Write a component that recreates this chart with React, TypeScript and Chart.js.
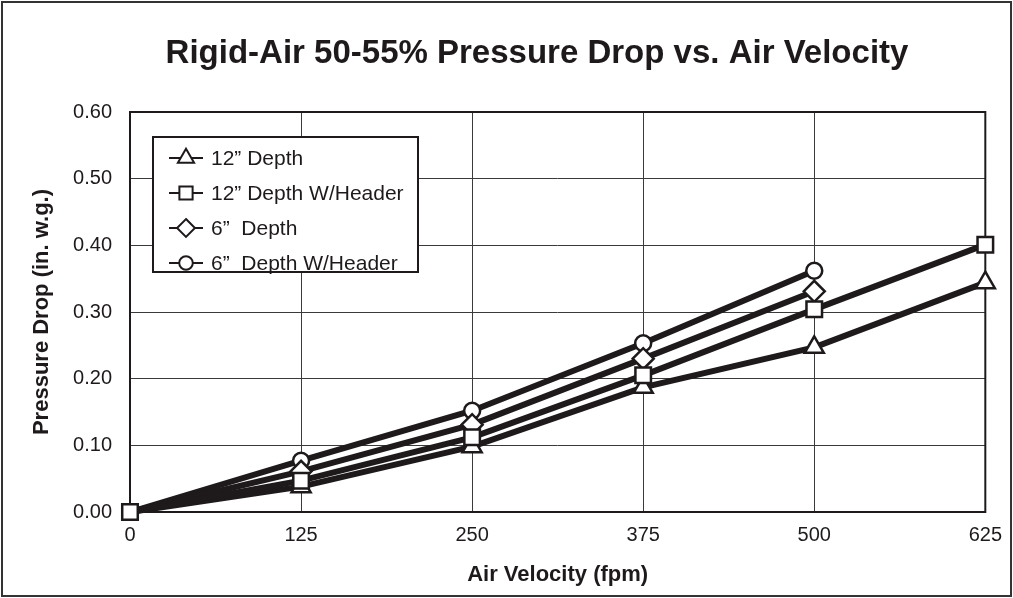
import React, { useEffect, useRef } from 'react';
import { Chart, registerables } from 'chart.js';

Chart.register(...registerables);

const INK = '#1e1a1b';
const GRID = '#3a3a3a';
const FONT = "'Liberation Sans', Arial, Helvetica, sans-serif";

const chartTitle = 'Rigid-Air 50-55% Pressure Drop vs. Air Velocity';
const xAxisTitle = 'Air Velocity (fpm)';
const yAxisTitle = 'Pressure Drop (in. w.g.)';

const velocities = [0, 125, 250, 375, 500, 625];
const xTickValues = [0, 125, 250, 375, 500, 625];
const yTickValues = [0, 0.1, 0.2, 0.3, 0.4, 0.5, 0.6];

const seriesLabels = ['12\u201D Depth', '12\u201D Depth W/Header', '6\u201D  Depth', '6\u201D  Depth W/Header'];
const seriesMarkers = ['triangle', 'rect', 'rectRot', 'circle'];
const seriesRadius = [11, 11, 10.5, 8];

const depth12 = [0, 0.038, 0.098, 0.187, 0.247, 0.344];
const depth12Header = [0, 0.047, 0.112, 0.205, 0.304, 0.401];
const depth6 = [0, 0.061, 0.131, 0.23, 0.331];
const depth6Header = [0, 0.077, 0.152, 0.253, 0.362];

const seriesValues = [depth12, depth12Header, depth6, depth6Header];

function drawMarker(ctx: CanvasRenderingContext2D, style: string, x: number, y: number, r: number) {
  ctx.beginPath();
  if (style === 'circle') {
    ctx.arc(x, y, r, 0, Math.PI * 2);
  } else if (style === 'rect') {
    const s = Math.SQRT1_2 * r;
    ctx.rect(x - s, y - s, 2 * s, 2 * s);
  } else if (style === 'rectRot') {
    ctx.moveTo(x, y - r);
    ctx.lineTo(x + r, y);
    ctx.lineTo(x, y + r);
    ctx.lineTo(x - r, y);
    ctx.closePath();
  } else if (style === 'triangle') {
    let a = 0;
    ctx.moveTo(x + Math.sin(a) * r, y - Math.cos(a) * r);
    a += (2 * Math.PI) / 3;
    ctx.lineTo(x + Math.sin(a) * r, y - Math.cos(a) * r);
    a += (2 * Math.PI) / 3;
    ctx.lineTo(x + Math.sin(a) * r, y - Math.cos(a) * r);
    ctx.closePath();
  }
  ctx.fill();
  ctx.stroke();
}

const decorPlugin = {
  id: 'decor',
  beforeDraw(chart: any) {
    const { ctx, width, height } = chart;
    ctx.save();
    ctx.fillStyle = '#ffffff';
    ctx.fillRect(0, 0, width, height);
    ctx.strokeStyle = '#333333';
    ctx.lineWidth = 2;
    ctx.strokeRect(2, 2, width - 4, height - 4);
    ctx.fillStyle = INK;
    ctx.font = `bold 33px ${FONT}`;
    ctx.textAlign = 'center';
    ctx.textBaseline = 'middle';
    ctx.fillText(chartTitle, 537, 54);
    ctx.restore();
  },
  beforeDatasetsDraw(chart: any) {
    const { ctx, chartArea } = chart;
    ctx.save();
    ctx.strokeStyle = INK;
    ctx.lineWidth = 2;
    ctx.strokeRect(chartArea.left, chartArea.top, chartArea.right - chartArea.left, chartArea.bottom - chartArea.top);
    ctx.restore();
  },
  afterDatasetsDraw(chart: any) {
    const { ctx, chartArea } = chart;
    const bx = chartArea.left + 23;
    const by = chartArea.top + 25;
    const bw = 265;
    const bh = 135;
    ctx.save();
    ctx.fillStyle = '#ffffff';
    ctx.fillRect(bx, by, bw, bh);
    ctx.strokeStyle = INK;
    ctx.lineWidth = 2;
    ctx.strokeRect(bx, by, bw, bh);
    chart.data.datasets.forEach((ds: any, i: number) => {
      const cy = by + 21 + i * 35;
      const lx0 = bx + 16;
      const lx1 = bx + 50;
      const mx = bx + 33;
      ctx.strokeStyle = INK;
      ctx.lineWidth = 2;
      ctx.beginPath();
      ctx.moveTo(lx0, cy);
      ctx.lineTo(lx1, cy);
      ctx.stroke();
      ctx.fillStyle = '#ffffff';
      drawMarker(ctx, seriesMarkers[i], mx, cy, seriesRadius[i] * 0.85);
      ctx.fillStyle = INK;
      ctx.font = `21px ${FONT}`;
      ctx.textAlign = 'left';
      ctx.textBaseline = 'middle';
      ctx.fillText(ds.label, bx + 58, cy + 1);
    });
    ctx.restore();
  },
};

export default function App() {
  const canvasRef = useRef<HTMLCanvasElement | null>(null);

  useEffect(() => {
    const canvas = canvasRef.current;
    if (!canvas) return;
    Chart.defaults.font.family = FONT;
    Chart.defaults.color = INK;

    const datasets = seriesValues.map((vals, i) => ({
      label: seriesLabels[i],
      data: vals.map((v, j) => ({ x: velocities[j], y: v })),
      borderColor: INK,
      borderWidth: 6,
      backgroundColor: '#ffffff',
      pointStyle: seriesMarkers[i],
      pointRadius: (c: any) => (c.dataIndex === 0 && seriesMarkers[i] !== 'rect' ? 0 : seriesRadius[i]),
      pointBackgroundColor: '#ffffff',
      pointBorderColor: INK,
      pointBorderWidth: 2.5,
      tension: 0,
      clip: false as any,
      fill: false,
      order: i === 1 ? 0 : 1,
    }));

    const chart = new Chart(canvas, {
      type: 'line',
      data: { datasets },
      plugins: [decorPlugin],
      options: {
        responsive: false,
        animation: false,
        devicePixelRatio: 1,
        layout: { padding: { top: 112, right: 26, left: 0, bottom: 0 } },
        plugins: {
          legend: { display: false },
          title: { display: false },
          tooltip: { enabled: false },
        },
        scales: {
          x: {
            type: 'linear',
            min: xTickValues[0],
            max: xTickValues[xTickValues.length - 1],
            afterBuildTicks: (s: any) => {
              s.ticks = xTickValues.map((v) => ({ value: v }));
            },
            afterFit: (s: any) => {
              s.height = 86;
            },
            grid: { color: GRID, lineWidth: 1, drawTicks: false },
            border: { display: false },
            ticks: {
              padding: 11,
              font: { size: 20 },
              color: INK,
              callback: (v: any) => String(v),
            },
            title: {
              display: true,
              text: xAxisTitle,
              font: { size: 22, weight: 'bold' },
              color: INK,
              padding: { top: 0, bottom: 10 },
            },
          },
          y: {
            type: 'linear',
            min: yTickValues[0],
            max: yTickValues[yTickValues.length - 1],
            afterBuildTicks: (s: any) => {
              s.ticks = yTickValues.map((v) => ({ value: v }));
            },
            afterFit: (s: any) => {
              s.width = 130;
            },
            grid: { color: GRID, lineWidth: 1, drawTicks: false },
            border: { display: false },
            ticks: {
              padding: 18,
              font: { size: 20 },
              color: INK,
              callback: (v: any) => Number(v).toFixed(2),
            },
            title: {
              display: true,
              text: yAxisTitle,
              font: { size: 22, weight: 'bold' },
              color: INK,
              padding: { top: 29, bottom: 0 },
            },
          },
        },
      } as any,
    });

    return () => {
      chart.destroy();
    };
  }, []);

  return (
    <div style={{ position: 'absolute', left: 0, top: 0, width: 1013, height: 598, background: '#fff' }}>
      <canvas ref={canvasRef} width={1013} height={598} style={{ display: 'block', width: 1013, height: 598 }} />
    </div>
  );
}
